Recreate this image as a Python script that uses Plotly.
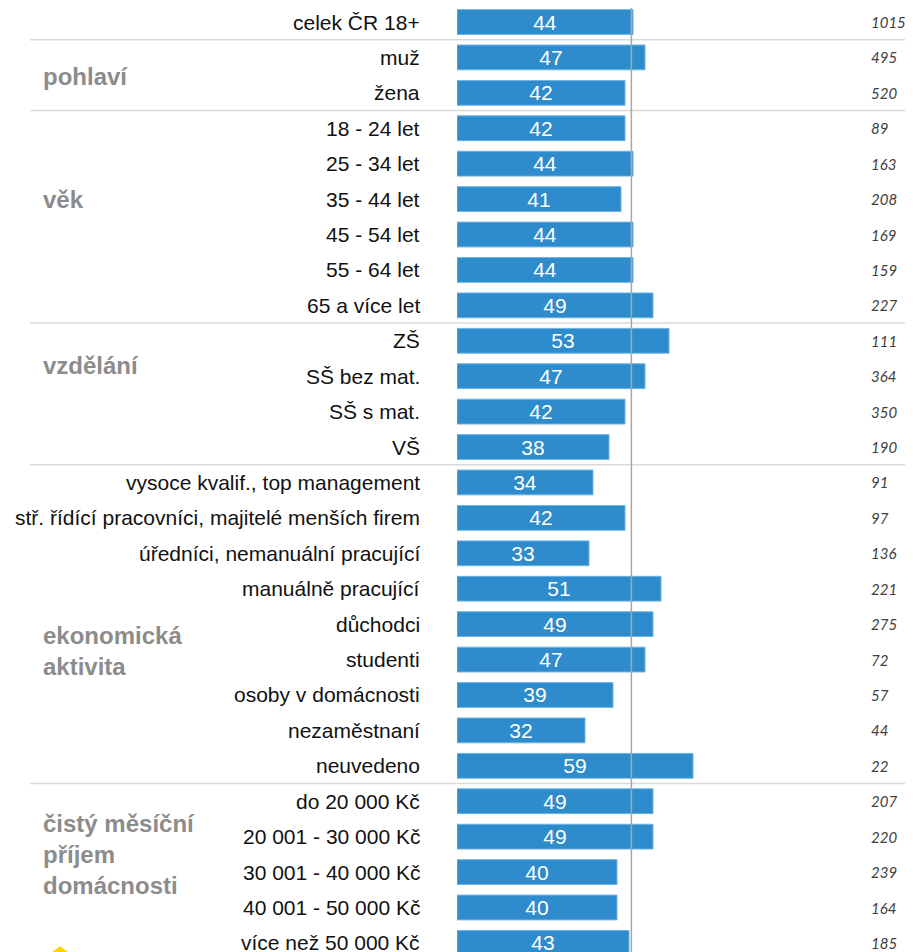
import plotly.graph_objects as go

# data
categories = ["celek ČR 18+", "muž", "žena",
              "18 - 24 let", "25 - 34 let", "35 - 44 let", "45 - 54 let", "55 - 64 let", "65 a více let",
              "ZŠ", "SŠ bez mat.", "SŠ s mat.", "VŠ",
              "vysoce kvalif., top management", "stř. řídící pracovníci, majitelé menších firem",
              "úředníci, nemanuální pracující", "manuálně pracující", "důchodci", "studenti",
              "osoby v domácnosti", "nezaměstnaní", "neuvedeno",
              "do 20 000 Kč", "20 001 - 30 000 Kč", "30 001 - 40 000 Kč", "40 001 - 50 000 Kč",
              "více než 50 000 Kč"]
values = [44, 47, 42, 42, 44, 41, 44, 44, 49, 53, 47, 42, 38, 34, 42, 33, 51, 49, 47, 39, 32, 59,
          49, 49, 40, 40, 43]
counts = [1015, 495, 520, 89, 163, 208, 169, 159, 227, 111, 364, 350, 190, 91, 97, 136, 221, 275,
          72, 57, 44, 22, 207, 220, 239, 164, 185]
group_names = ["pohlaví", "věk", "vzdělání", "ekonomická<br>aktivita",
               "čistý měsíční<br>příjem<br>domácnosti"]
group_first = [1, 3, 9, 13, 22]   # first row index of each group
group_label_row = [1.55, 5.0, 9.7, 17.75, 23.5]
reference_value = 43.6

rows = list(range(len(categories)))

# page has an 8px body margin, so the figure is drawn 8px smaller
OFF = 8
W, H = 913 - OFF, 952 - OFF
L = 457 - OFF
PLOT_W = W - L - 4

def px(xpage):
    return (xpage - OFF - L) / PLOT_W

fig = go.Figure()
fig.add_trace(go.Bar(
    x=values, y=rows, orientation="h",
    marker=dict(color="#2e8bcc", line=dict(color="#6db3e3", width=1)),
    width=0.7,
    text=[str(v) for v in values], textposition="inside", insidetextanchor="middle",
    constraintext="none",
    textfont=dict(color="white", size=21, family="Liberation Sans, Arial"),
    hoverinfo="skip",
))

ann = []
for r, c in zip(rows, categories):
    ann.append(dict(x=px(422), xref="paper", y=r, yref="y", text=c, showarrow=False,
                    xanchor="right", yanchor="middle",
                    font=dict(size=21, color="#111111", family="Liberation Sans, Arial")))
for r, n in zip(rows, counts):
    ann.append(dict(x=px(869), xref="paper", y=r, yref="y", text=f"<i>{n}</i>", showarrow=False,
                    xanchor="left", yanchor="middle",
                    font=dict(size=15, color="#404040", family="Lato, Open Sans")))
for g, gy in zip(group_names, group_label_row):
    ann.append(dict(x=px(41), xref="paper", y=gy, yref="y", text=f"<b>{g}</b>", showarrow=False,
                    xanchor="left", yanchor="middle", align="left",
                    font=dict(size=24, color="#8c8c8c", family="Liberation Sans, Arial")))

shapes = []
for gf in group_first:
    shapes.append(dict(type="line", xref="paper", yref="y", x0=px(30), x1=px(905),
                       y0=gf - 0.5, y1=gf - 0.5, line=dict(color="#d9d9d9", width=1.5)))
shapes.append(dict(type="line", xref="x", yref="paper", x0=reference_value, x1=reference_value,
                   y0=0, y1=1, line=dict(color="#a6a6a6", width=1.5)))
# logo corner peeking at the bottom
shapes.append(dict(type="path", xref="paper", yref="paper",
                   path=f"M {px(52)} 0 L {px(60)} 0.006 L {px(68)} 0 Z",
                   fillcolor="#ffd400", line=dict(width=0)))

fig.update_layout(
    width=W, height=H,
    margin=dict(l=L, r=4, t=0, b=0),
    plot_bgcolor="white", paper_bgcolor="white",
    showlegend=False,
    xaxis=dict(range=[0, PLOT_W / 4], visible=False),
    yaxis=dict(range=[(952 - 22) / 35.42, (OFF - 22) / 35.42], visible=False),
    annotations=ann, shapes=shapes,
)

fig.write_html("out.html")
